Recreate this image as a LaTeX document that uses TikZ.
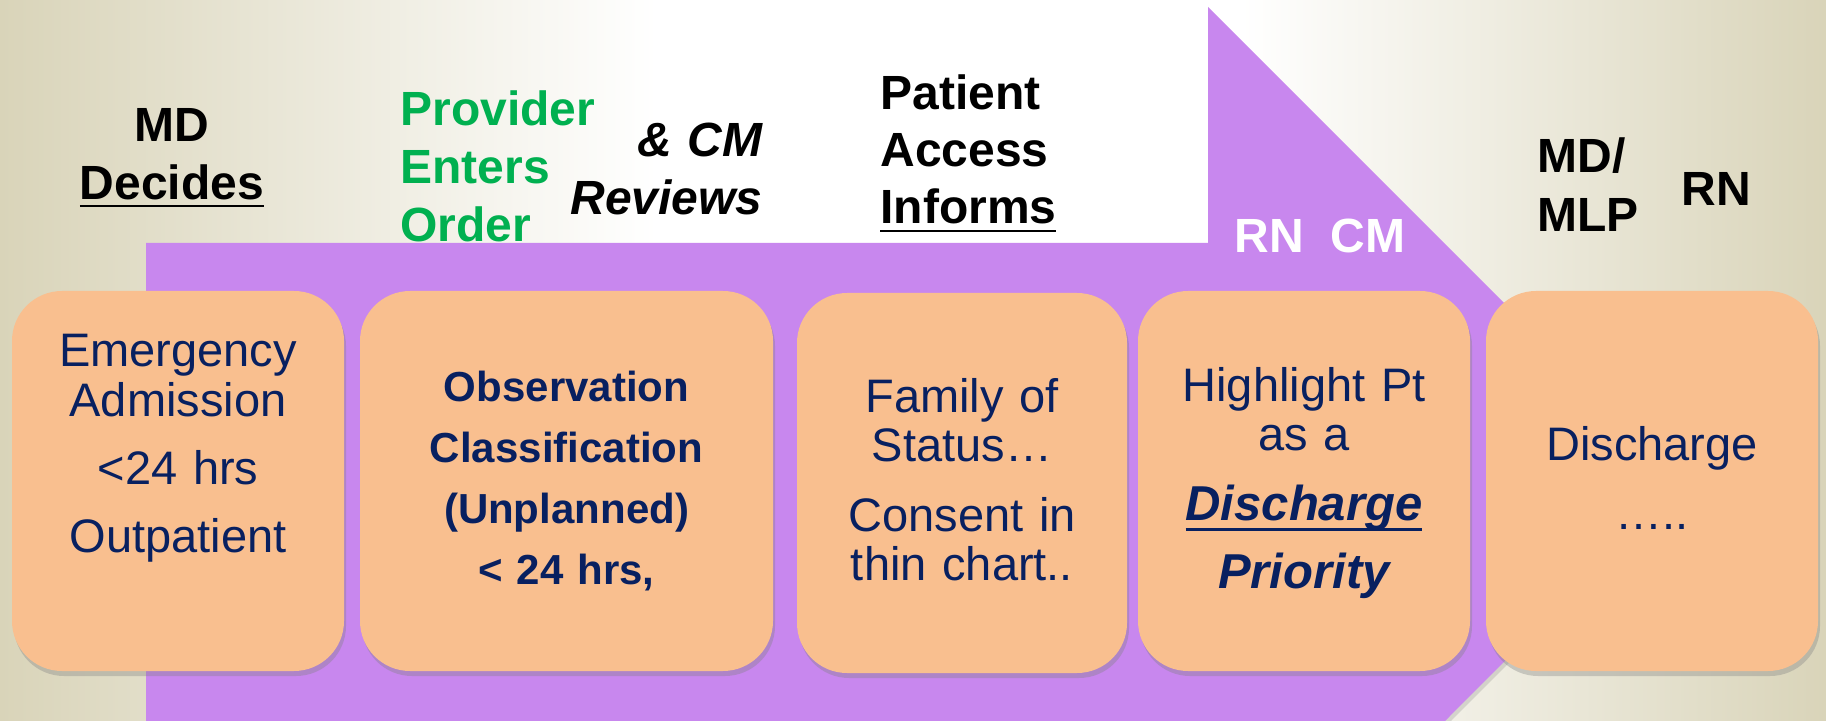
\documentclass[tikz,border=0pt]{standalone}
\usepackage{fontspec}
\setmainfont{Liberation Sans}
\usetikzlibrary{shadows}

\definecolor{bgtan}{RGB}{217,212,185}
\definecolor{flowpurple}{RGB}{200,135,238}
\definecolor{stagepeach}{RGB}{249,191,143}
\definecolor{stagenavy}{RGB}{8,32,96}
\definecolor{ordergreen}{RGB}{0,176,80}

\pgfdeclarehorizontalshading{bgglow}{100bp}{color(0bp)=(bgtan); color(25bp)=(bgtan); color(43bp)=(white); color(59bp)=(white); color(75bp)=(bgtan); color(100bp)=(bgtan)}

% underline: depth below baseline, thickness, text
\newcommand{\barunder}[3]{\leavevmode\setbox0=\hbox{#3}\rlap{\rule[-#1]{\wd0}{#2}}\box0}

\begin{document}
\begin{tikzpicture}[x=0.5pt, y=-0.5pt,
	stage/.style={fill=stagepeach, rounded corners=25pt, inner sep=0pt, minimum height=190pt,
		drop shadow={shadow xshift=1pt, shadow yshift=-2.5pt, opacity=0.35}},
	inbox/.style={text=stagenavy, inner sep=0pt, align=center, anchor=base,
		font=\fontsize{23.5}{25}\selectfont},
	role/.style={inner sep=0pt, font=\fontsize{24}{29}\selectfont\bfseries}]

	\useasboundingbox (0,0) rectangle (1826,721);
	\shade[shading=bgglow] (0,0) rectangle (1826,721);

	% the big arrow behind the stages
	\fill[flowpurple, drop shadow={shadow xshift=1pt, shadow yshift=-2pt, opacity=0.25}]
		(146,243) -- (1208,243) -- (1208,7) -- (1683,482) -- (1445,721) -- (146,721) -- cycle;

	\node[stage, minimum width=166pt] (emerg) at (178,481) {};
	\node[stage, minimum width=206.5pt] (obs) at (566.5,481) {};
	\node[stage, minimum width=165pt] (family) at (962,483) {};
	\node[stage, minimum width=166pt] (highlight) at (1304,481) {};
	\node[stage, minimum width=166pt] (discharge) at (1652,481) {};

	\node[inbox, text width=160pt] (emergtxt) at (178,367)
		{Emergency\\Admission\\[9pt]<24 hrs\\[9pt]Outpatient};
	\node[inbox, text width=195pt, font=\fontsize{21}{30.5}\selectfont\bfseries] (obstxt) at (566.5,402)
		{Observation\\Classification\\(Unplanned)\\< 24 hrs,};
	\node[inbox, text width=160pt, font=\fontsize{23.5}{24.5}\selectfont] (familytxt) at (962,413)
		{Family of\\Status…\\[10.5pt]Consent in\\thin chart..};
	\node[inbox, text width=160pt, font=\fontsize{23.5}{24.5}\selectfont] (highlighttxt) at (1304,402)
		{Highlight Pt\\as a\\[10pt]{\fontsize{24.5}{24.5}\selectfont\bfseries\itshape\barunder{5.5pt}{1.6pt}{Discharge}}\\[10pt]{\fontsize{24.5}{24.5}\selectfont\bfseries\itshape Priority}};
	\node[inbox, text width=160pt] (dischargetxt) at (1652,460)
		{Discharge\\[10pt]…..};

	% who does what
	\node[role, anchor=base, align=center, text width=120pt] (mddecides) at (172,142)
		{MD\\\barunder{3.5pt}{1.1pt}{Decides}};
	\node[role, anchor=base west, align=left, text width=110pt, text=ordergreen] (provider) at (400,126)
		{Provider\\Enters\\Order};
	\node[role, anchor=base east, align=right, text width=100pt, font=\fontsize{24}{29}\selectfont\bfseries\itshape] (cmreviews) at (763,157)
		{\& CM\\Reviews};
	\node[role, anchor=base west, align=left, text width=110pt, font=\fontsize{24}{28.5}\selectfont\bfseries] (access) at (880,110)
		{Patient\\Access\\\barunder{4pt}{1.1pt}{Informs}};
	\node[role, anchor=base west, text=white] (rncm) at (1234,253) {RN~~CM};
	\node[role, anchor=base west, align=left, text width=60pt, font=\fontsize{24}{29.5}\selectfont\bfseries] (mdmlp) at (1537,173)
		{MD/\\MLP};
	\node[role, anchor=base west] (rnlast) at (1681,206) {RN};

\end{tikzpicture}
\end{document}
